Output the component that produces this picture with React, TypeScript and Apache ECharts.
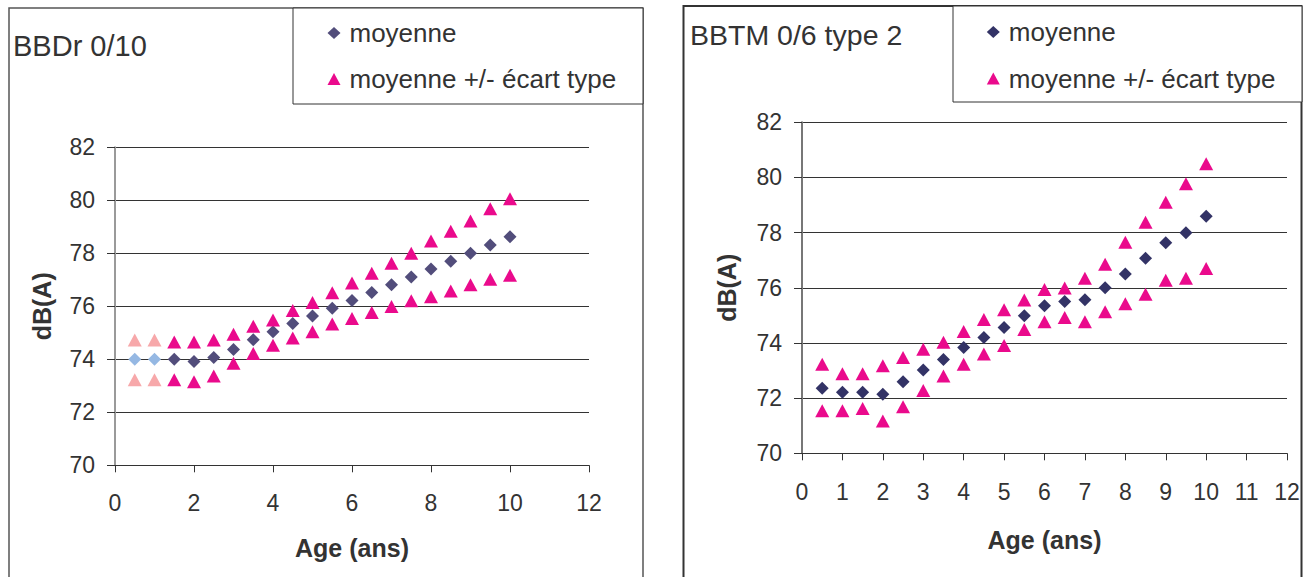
import React, { useEffect, useRef } from "react";
import * as echarts from "echarts";

const ages = [0.5, 1, 1.5, 2, 2.5, 3, 3.5, 4, 4.5, 5, 5.5, 6, 6.5, 7, 7.5, 8, 8.5, 9, 9.5, 10];

// BBDr 0/10
const bbdrMean = [74.0, 74.0, 74.0, 73.92, 74.07, 74.37, 74.74, 75.04, 75.35, 75.63, 75.93, 76.22, 76.52, 76.81, 77.11, 77.41, 77.7, 78.0, 78.31, 78.62];
const bbdrUpper = [74.73, 74.73, 74.65, 74.65, 74.73, 74.95, 75.25, 75.48, 75.84, 76.14, 76.51, 76.88, 77.25, 77.62, 78.0, 78.46, 78.83, 79.22, 79.68, 80.06];
const bbdrLower = [73.23, 73.23, 73.23, 73.15, 73.37, 73.85, 74.22, 74.53, 74.8, 75.04, 75.33, 75.54, 75.77, 75.99, 76.21, 76.36, 76.58, 76.81, 77.02, 77.17];

// BBTM 0/6 type 2
const bbtmMean = [72.36, 72.21, 72.21, 72.14, 72.59, 73.02, 73.4, 73.84, 74.2, 74.56, 74.99, 75.35, 75.5, 75.57, 76.0, 76.5, 77.07, 77.63, 78.0, 78.59];
const bbtmUpper = [73.23, 72.88, 72.88, 73.17, 73.47, 73.77, 74.03, 74.42, 74.85, 75.2, 75.56, 75.94, 75.99, 76.35, 76.85, 77.65, 78.38, 79.1, 79.77, 80.5];
const bbtmLower = [71.54, 71.54, 71.62, 71.17, 71.69, 72.28, 72.8, 73.23, 73.6, 73.91, 74.49, 74.77, 74.92, 74.77, 75.13, 75.42, 75.77, 76.27, 76.35, 76.7];

const titles = ["BBDr 0/10", "BBTM 0/6 type 2"];
const legendNames = ["moyenne", "moyenne +/- écart type"];
const yRange = [70, 82];
const xRange = [0, 12];
const xIntervals = [2, 1];
const yInterval = 2;
const xName = "Age (ans)";
const yName = "dB(A)";

const FONT = "'Liberation Sans', Arial, sans-serif";
const TXT = "#333333";
const MAGENTA = "#EA0A8C";

function pairs(ys: number[], lightColor?: string) {
  return ages.map((a, i) => {
    const v = [a, ys[i]];
    if (lightColor && i < 2) return { value: v, itemStyle: { color: lightColor, opacity: 1 } };
    return v;
  });
}

function makeX(gridIndex: number, margin: number, nameGap: number) {
  return {
    type: "value",
    gridIndex,
    min: xRange[0],
    max: xRange[1],
    interval: xIntervals[gridIndex],
    name: xName,
    nameLocation: "middle",
    nameGap,
    nameTextStyle: { fontFamily: FONT, fontSize: 25, fontWeight: "bold", color: TXT },
    axisLine: { show: true, onZero: false, lineStyle: { color: "#333", width: 1 } },
    axisTick: { show: true, length: 7, lineStyle: { color: "#333", width: 1 } },
    axisLabel: { fontFamily: FONT, fontSize: 23, color: TXT, margin },
    splitLine: { show: false },
  };
}

function makeY(gridIndex: number, axisColor: string, margin: number, nameGap: number) {
  return {
    type: "value",
    gridIndex,
    min: yRange[0],
    max: yRange[1],
    interval: yInterval,
    name: yName,
    nameLocation: "middle",
    nameRotate: 90,
    nameGap,
    nameTextStyle: { fontFamily: FONT, fontSize: 25, fontWeight: "bold", color: TXT },
    axisLine: { show: true, onZero: false, lineStyle: { color: axisColor, width: 2 } },
    axisTick: { show: true, length: 8, lineStyle: { color: "#333", width: 1 } },
    axisLabel: { fontFamily: FONT, fontSize: 23, color: TXT, margin },
    splitLine: { show: true, lineStyle: { color: "#333", width: 1 } },
  };
}

export default function App() {
  const ref = useRef<HTMLDivElement>(null);
  useEffect(() => {
    if (!ref.current) return;
    const chart = echarts.init(ref.current, null, { renderer: "svg", width: 1312, height: 577 });
    const leftDiamond = "#524D7B";
    const rightDiamond = "#333366";
    const legendText = { fontFamily: FONT, fontSize: 26, color: TXT, padding: [0, 0, 0, 4] };
    const option: any = {
      animation: false,
      backgroundColor: "#ffffff",
      textStyle: { fontFamily: FONT },
      title: [
        { text: titles[0], left: 13, top: 31, padding: 0, textStyle: { fontFamily: FONT, fontSize: 29, fontWeight: "normal", color: TXT } },
        { text: titles[1], left: 690, top: 20, padding: 0, textStyle: { fontFamily: FONT, fontSize: 28.5, fontWeight: "normal", color: TXT } },
      ],
      legend: [
        {
          orient: "vertical",
          left: 327.5,
          top: 20,
          padding: 0,
          itemGap: 20,
          itemWidth: 13,
          itemHeight: 12,
          selectedMode: false,
          textStyle: legendText,
          data: [
            { name: legendNames[0], icon: "diamond", itemStyle: { color: leftDiamond } },
            { name: legendNames[1], icon: "triangle", itemStyle: { color: MAGENTA } },
          ],
        },
        {
          orient: "vertical",
          left: 986.8,
          top: 19,
          padding: 0,
          itemGap: 20.5,
          itemWidth: 13,
          itemHeight: 12,
          selectedMode: false,
          textStyle: legendText,
          data: [
            { name: legendNames[0], icon: "diamond", itemStyle: { color: rightDiamond } },
            { name: legendNames[1], icon: "triangle", itemStyle: { color: MAGENTA } },
          ],
        },
      ],
      grid: [
        { left: 115, top: 147.3, width: 474, height: 318 },
        { left: 802, top: 122.3, width: 485, height: 331 },
      ],
      xAxis: [makeX(0, 26, 70.5), makeX(1, 27, 74)],
      yAxis: [makeY(0, "#9a9a9a", 20, 60.5), makeY(1, "#777777", 20, 62.5)],
      graphic: [
        { type: "rect", shape: { x: 9, y: 8, width: 634, height: 640 }, style: { fill: "none", stroke: "#555", lineWidth: 1.5 }, silent: true, z: -1 },
        { type: "rect", shape: { x: 683.5, y: 6, width: 618, height: 640 }, style: { fill: "none", stroke: "#333", lineWidth: 2 }, silent: true, z: -1 },
        { type: "rect", shape: { x: 293, y: 8, width: 350, height: 96 }, style: { fill: "#fff", stroke: "#333", lineWidth: 1 }, silent: true, z: -1 },
        { type: "rect", shape: { x: 953, y: 6, width: 349, height: 96 }, style: { fill: "#fff", stroke: "#333", lineWidth: 1 }, silent: true, z: -1 },
      ],
      series: [
        {
          name: legendNames[0], type: "scatter", xAxisIndex: 0, yAxisIndex: 0,
          symbol: "diamond", symbolSize: 13, itemStyle: { color: leftDiamond, opacity: 1 }, silent: true,
          data: pairs(bbdrMean, "#95B8E3"),
        },
        {
          name: legendNames[1], type: "scatter", xAxisIndex: 0, yAxisIndex: 0,
          symbol: "triangle", symbolSize: [14, 13], itemStyle: { color: MAGENTA, opacity: 1 }, silent: true,
          data: [...pairs(bbdrUpper, "#F7A8AA"), ...pairs(bbdrLower, "#F7A8AA")],
        },
        {
          name: legendNames[0], type: "scatter", xAxisIndex: 1, yAxisIndex: 1,
          symbol: "diamond", symbolSize: 13, itemStyle: { color: rightDiamond, opacity: 1 }, silent: true,
          data: pairs(bbtmMean),
        },
        {
          name: legendNames[1], type: "scatter", xAxisIndex: 1, yAxisIndex: 1,
          symbol: "triangle", symbolSize: [14, 13], itemStyle: { color: MAGENTA, opacity: 1 }, silent: true,
          data: [...pairs(bbtmUpper), ...pairs(bbtmLower)],
        },
      ],
    };
    chart.setOption(option);
    return () => chart.dispose();
  }, []);
  return (
    <div
      ref={ref}
      style={{ position: "fixed", left: 0, top: 0, width: 1312, height: 577, background: "#fff" }}
    />
  );
}
